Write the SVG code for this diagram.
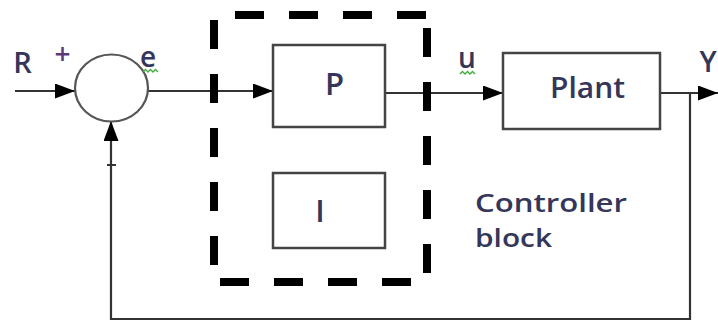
<svg xmlns="http://www.w3.org/2000/svg" width="718" height="321" viewBox="0 0 718 321">
<style>
.box{fill:#fff;stroke:#444;stroke-width:2.5}
.ln{fill:none;stroke:#333;stroke-width:2.2}
.dash{fill:none;stroke:#000;stroke-width:8;stroke-dasharray:29 25}
.t{font-family:"Open Sans","Liberation Sans",sans-serif;fill:#34365a;font-weight:600}
.sq{fill:none;stroke:#3cad3c;stroke-width:1.3}
</style>
<defs>
<marker id="ah" viewBox="0 0 20 15" refX="20" refY="7.5" markerWidth="20" markerHeight="15" markerUnits="userSpaceOnUse" orient="auto">
<path d="M0,0 L20,7.5 L0,15 Z" fill="#000"/>
</marker>
</defs>
<rect width="718" height="321" fill="#fff"/>
<g id="connectors">
<line class="ln" x1="15" y1="91" x2="75" y2="91" marker-end="url(#ah)"/>
<line class="ln" x1="148" y1="91" x2="273" y2="91" marker-end="url(#ah)"/>
<line class="ln" x1="385" y1="93" x2="503" y2="93" marker-end="url(#ah)"/>
<line class="ln" x1="660" y1="93" x2="718" y2="93" marker-end="url(#ah)"/>
<polyline class="ln" points="690,93 690,319 111,319 111,121" marker-end="url(#ah)"/>
</g>
<g id="controller-block">
<line class="dash" x1="235" y1="15" x2="427" y2="15"/>
<line class="dash" x1="427" y1="28" x2="427" y2="275"/>
<line class="dash" x1="214" y1="20" x2="214" y2="268"/>
<line class="dash" x1="220" y1="282" x2="414" y2="282"/>
<text class="t" x="475" y="212" font-size="25" textLength="152" lengthAdjust="spacingAndGlyphs">Controller</text>
<text class="t" x="475" y="247" font-size="25" textLength="77" lengthAdjust="spacingAndGlyphs">block</text>
</g>
<g id="sum">
<ellipse cx="111.5" cy="88" rx="36.5" ry="33.5" fill="#fff" stroke="#555" stroke-width="2.2"/>
<text x="62.5" y="64" font-size="28" text-anchor="middle" font-family="Open Sans, Liberation Sans, sans-serif" fill="#5a3a78" font-weight="600">+</text>
<text class="t" x="148" y="67" font-size="28" text-anchor="middle">e</text>
<path class="sq" d="M143,72 l2.5,-2.5 l2.5,2.5 l2.5,-2.5 l2.5,2.5 l2.5,-2.5 l2.5,2.5"/>
<line x1="107" y1="165" x2="116" y2="165" stroke="#333" stroke-width="2"/>
</g>
<g id="input-R">
<text class="t" x="22.5" y="73" font-size="29" text-anchor="middle">R</text>
</g>
<g id="P">
<rect class="box" x="273" y="45" width="112" height="82"/>
<text class="t" x="334.5" y="95" font-size="31" text-anchor="middle">P</text>
</g>
<g id="I">
<rect class="box" x="273" y="173" width="112" height="75"/>
<text class="t" x="320" y="222" font-size="31" text-anchor="middle">I</text>
</g>
<g id="u-label">
<text class="t" x="467" y="68" font-size="28" text-anchor="middle">u</text>
<path class="sq" d="M460,74 l2.5,-2.5 l2.5,2.5 l2.5,-2.5 l2.5,2.5 l2.5,-2.5 l2.5,2.5"/>
</g>
<g id="Plant">
<rect class="box" x="503" y="53" width="157" height="76"/>
<text class="t" x="550" y="98" font-size="28" textLength="75" lengthAdjust="spacingAndGlyphs">Plant</text>
</g>
<g id="output-Y">
<text class="t" x="708" y="72" font-size="29" text-anchor="middle">Y</text>
</g>
</svg>
